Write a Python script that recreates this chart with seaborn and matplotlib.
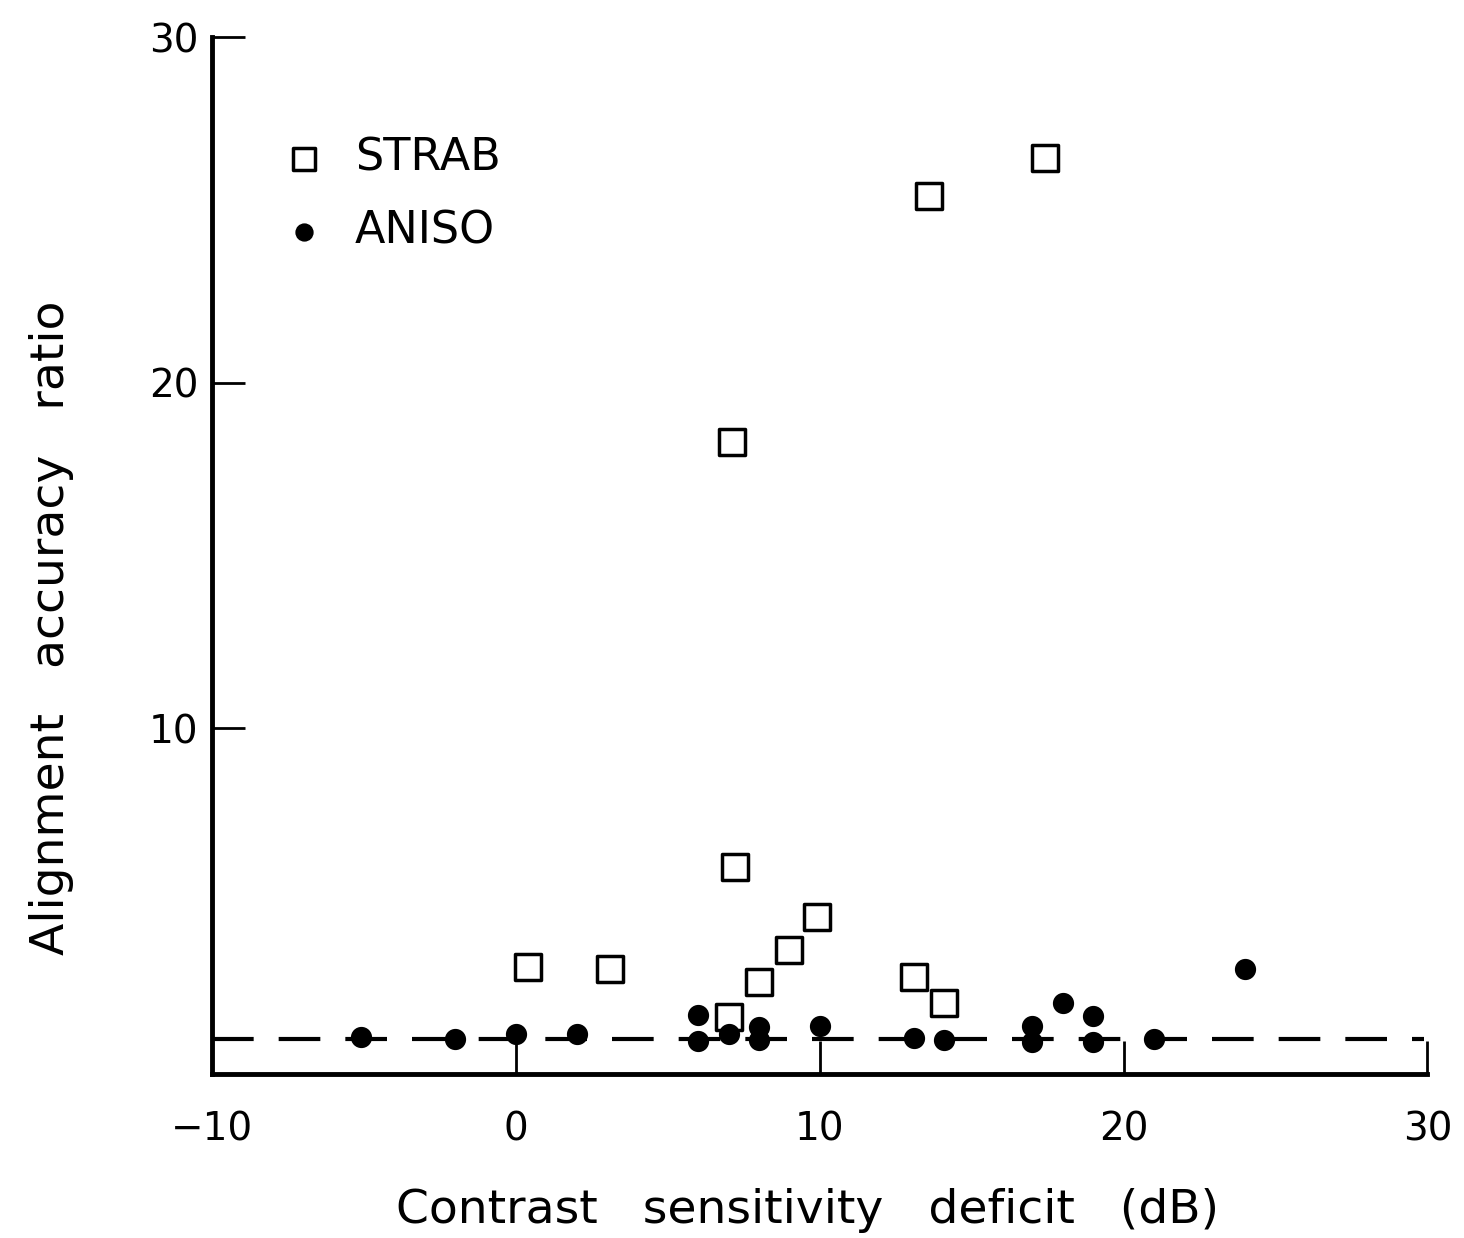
import pandas as pd
import matplotlib
matplotlib.use('Agg')
import matplotlib.pyplot as plt
import seaborn as sns

# Datos
strab_x = [0.4, 3.1, 7.0, 8.0, 9.0, 9.9, 13.1, 14.1, 7.1, 7.2, 13.6, 17.4]
strab_y = [3.1, 3.05, 1.65, 2.65, 3.6, 4.55, 2.8, 2.05, 18.3, 6.0, 25.4, 26.5]

aniso_x = [-5.1, -2.0, 0.0, 2.0, 6.0, 6.0, 7.0, 8.0, 8.0, 10.0, 13.1, 14.1,
           17.0, 17.0, 18.0, 19.0, 19.0, 21.0, 24.0]
aniso_y = [1.08, 1.0, 1.17, 1.15, 1.72, 0.94, 1.16, 1.35, 0.97, 1.4, 1.05, 0.97,
           1.4, 0.92, 2.05, 1.68, 0.92, 1.0, 3.05]

ref_x = [-10, 29.9]
ref_y = [1, 1]

xticks = [-10, 0, 10, 20, 30]
yticks = [10, 20, 30]

strab = pd.DataFrame({'x': strab_x, 'y': strab_y})
aniso = pd.DataFrame({'x': aniso_x, 'y': aniso_y})

sns.set_style('ticks', {'axes.edgecolor': 'black', 'text.color': 'black',
                        'xtick.color': 'black', 'ytick.color': 'black',
                        'axes.labelcolor': 'black'})
plt.rcParams['font.family'] = ['DejaVu Sans']

fig = plt.figure(figsize=(14.64, 12.38), dpi=100)
ax = fig.add_axes([0.145, 0.1325, 0.83, 0.8375])

# linea de referencia discontinua
ax.plot(ref_x, ref_y, color='black', linestyle=(0, (10, 6)), linewidth=3, zorder=1)

sns.scatterplot(data=strab, x='x', y='y', marker='s', s=330, facecolor='white',
                edgecolor='black', linewidth=2.5, label='STRAB', ax=ax, zorder=3)
sns.scatterplot(data=aniso, x='x', y='y', marker='o', s=200, color='black',
                edgecolor='black', label='ANISO', ax=ax, zorder=3)

ax.set_xlim(-10, 30)
ax.set_ylim(0, 30)
ax.set_xticks(xticks)
ax.set_yticks(yticks)
ax.tick_params(direction='in', length=24, width=2, labelsize=28)
ax.tick_params(axis='x', pad=26)
ax.tick_params(axis='y', pad=10)
for s in ['left', 'bottom']:
    ax.spines[s].set_linewidth(3.5)
sns.despine(ax=ax)

ax.set_xlabel('Contrast   sensitivity   deficit   (dB)', fontsize=34)
ax.set_ylabel('Alignment   accuracy   ratio', fontsize=34)
ax.xaxis.set_label_coords(0.49, -0.11)
ax.yaxis.set_label_coords(-0.114, 0.43)

leg = ax.legend(loc='upper left', bbox_to_anchor=(0.006, 0.943), frameon=False,
                fontsize=32, handletextpad=0.15, labelspacing=0.68, markerscale=0.85)

fig.savefig('out.png', dpi=100)
